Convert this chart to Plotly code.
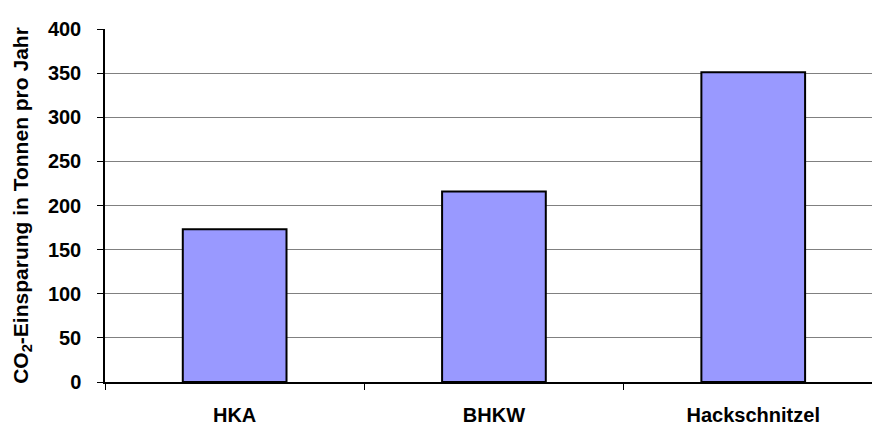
import plotly.graph_objects as go

# CO2 savings per year by measure
categories = ["HKA", "BHKW", "Hackschnitzel"]
savings_t = [173, 216, 351]

y_ticks = [0, 50, 100, 150, 200, 250, 300, 350, 400]

font_family = "Arial, Liberation Sans, sans-serif"

fig = go.Figure(
    go.Bar(
        x=categories,
        y=savings_t,
        width=0.4,
        marker=dict(color="#9999FF", line=dict(color="#000000", width=2)),
    )
)

fig.update_layout(
    width=872,
    height=425,
    margin=dict(l=105, r=0, t=29, b=43),
    paper_bgcolor="white",
    plot_bgcolor="white",
    showlegend=False,
    font=dict(family=font_family, size=20, color="black"),
)

fig.update_xaxes(
    type="category",
    range=[-0.5, 2.458],
    showgrid=False,
    showline=True,
    linecolor="#000000",
    linewidth=1.5,
    ticks="outside",
    tickson="boundaries",
    ticklen=6,
    tickcolor="#000000",
    ticklabelstandoff=14,
    tickfont=dict(family=font_family, size=20, color="black", weight="bold"),
)

fig.update_yaxes(
    range=[0, 400],
    tickvals=y_ticks,
    showgrid=True,
    gridcolor="#808080",
    gridwidth=1,
    showline=True,
    linecolor="#000000",
    linewidth=1.5,
    ticks="outside",
    ticklen=6,
    tickcolor="#000000",
    zeroline=False,
    ticklabelstandoff=12,
    tickfont=dict(family=font_family, size=20, color="black", weight="bold"),
    title=dict(
        text="CO<sub>2</sub>-Einsparung in Tonnen pro Jahr",
        font=dict(family=font_family, size=21, color="black", weight="bold"),
        standoff=14,
    ),
)

fig.write_html("out.html")
